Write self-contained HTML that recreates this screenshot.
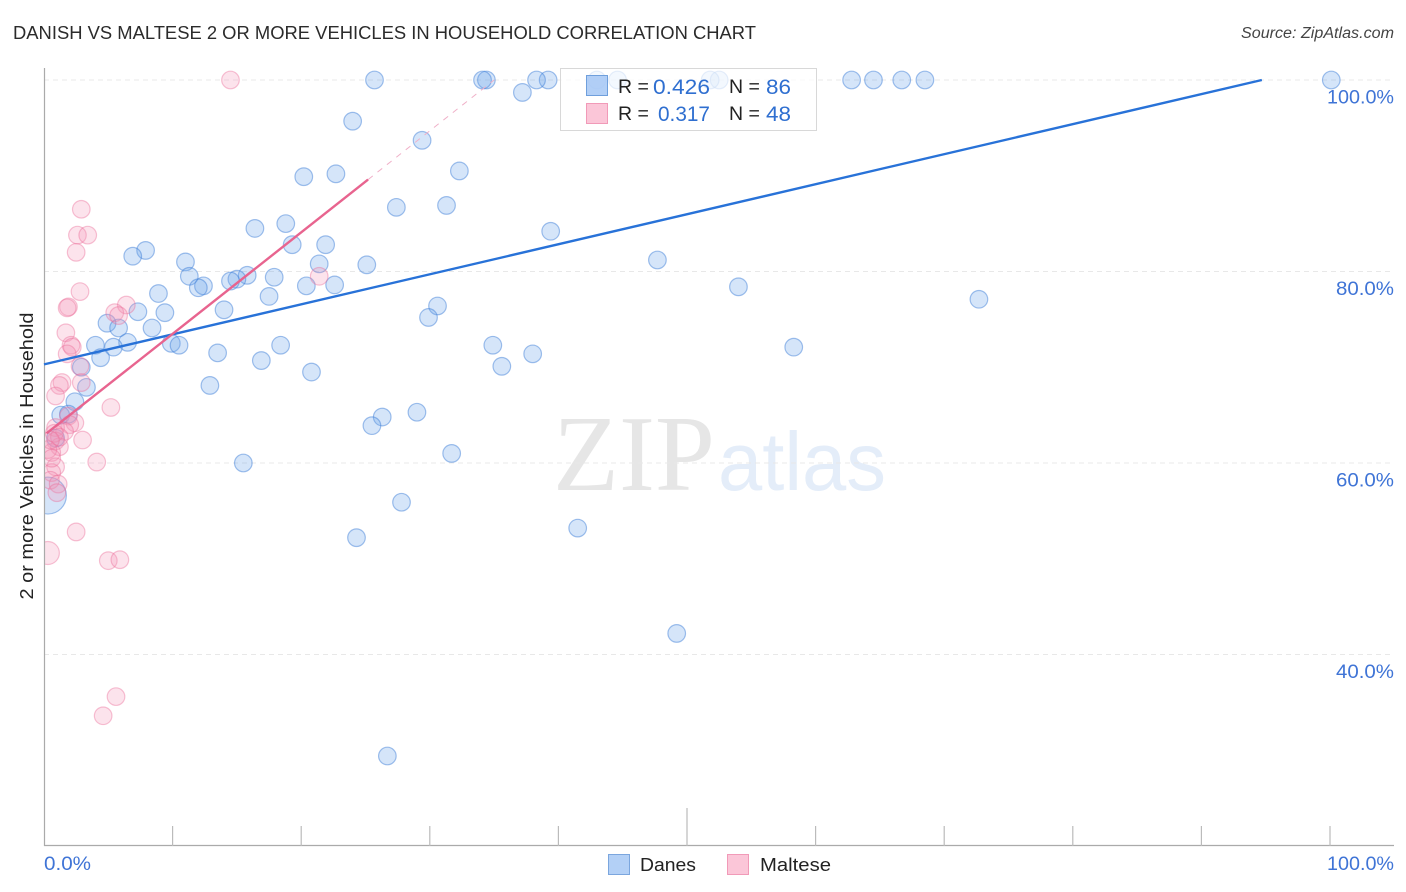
<!DOCTYPE html>
<html lang="en">
<head>
<meta charset="utf-8">
<title>Danish vs Maltese 2 or More Vehicles in Household Correlation Chart</title>
<style>
html,body{margin:0;padding:0;background:#fff;}
body{width:1406px;height:892px;overflow:hidden;font-family:"Liberation Sans",sans-serif;}
svg{display:block;}
</style>
</head>
<body>
<svg id="chart" width="1406" height="892" viewBox="0 0 1406 892" xmlns="http://www.w3.org/2000/svg">
  <text x="13" y="39" font-size="18.5" fill="#2b2b2b" textLength="743" lengthAdjust="spacingAndGlyphs">DANISH VS MALTESE 2 OR MORE VEHICLES IN HOUSEHOLD CORRELATION CHART</text>
  <text x="1241" y="38" font-size="15.5" font-style="italic" fill="#444" textLength="153" lengthAdjust="spacingAndGlyphs">Source: ZipAtlas.com</text>
  <g>
    <text x="553" y="490" font-family="'Liberation Serif',serif" font-size="108" fill="#e6e6e6" textLength="162" lengthAdjust="spacingAndGlyphs">ZIP</text>
    <text x="718" y="490" font-size="83" fill="#e4edf9" textLength="168" lengthAdjust="spacingAndGlyphs">atlas</text>
  </g>
  <g id="grid"></g>
  <g id="points-danes"></g>
  <g id="points-maltese"></g>
  <rect x="0" y="60" width="45" height="790" fill="#fff"/>
  <g id="axes"></g>
  <g id="trends"></g>
  <g>
    <rect x="560.5" y="68.5" width="256" height="62" fill="#fff" fill-opacity="0.72" stroke="#d8d8d8"/>
    <rect x="586.5" y="75.5" width="21" height="20" fill="#a5c7f4" fill-opacity="0.85" stroke="#6f9fdc"/>
    <rect x="586.5" y="103.5" width="21" height="20" fill="#fbc6d8" stroke="#f19ab8"/>
    <g font-size="19.5" fill="#222">
      <text x="618" y="93">R =</text>
      <text x="653" y="94" font-size="21" fill="#2f6fd0" textLength="57" lengthAdjust="spacingAndGlyphs">0.426</text>
      <text x="729" y="93">N =</text>
      <text x="766" y="94" font-size="21" fill="#2f6fd0" textLength="25" lengthAdjust="spacingAndGlyphs">86</text>
    </g>
    <g font-size="19.5" fill="#222">
      <text x="618" y="120">R =</text>
      <text x="658" y="121" font-size="21" fill="#2f6fd0" textLength="52" lengthAdjust="spacingAndGlyphs">0.317</text>
      <text x="729" y="120">N =</text>
      <text x="766" y="121" font-size="21" fill="#2f6fd0" textLength="25" lengthAdjust="spacingAndGlyphs">48</text>
    </g>
  </g>
  <text transform="translate(33,456) rotate(-90)" font-size="18.5" fill="#222" text-anchor="middle" textLength="287" lengthAdjust="spacingAndGlyphs">2 or more Vehicles in Household</text>
  <g>
    <g>
      <rect x="608.5" y="854.5" width="21" height="20" fill="#b3d0f6" stroke="#7ba6de"/>
      <text x="640" y="871" font-size="18.5" fill="#222" textLength="56" lengthAdjust="spacingAndGlyphs">Danes</text>
    </g>
    <g>
      <rect x="727.5" y="854.5" width="21" height="20" fill="#fbc6d8" stroke="#f19ab8"/>
      <text x="760" y="871" font-size="18.5" fill="#222" textLength="71" lengthAdjust="spacingAndGlyphs">Maltese</text>
    </g>
  </g>
</svg>
<script>
const yTicks = [100, 80, 60, 40];
const yTickLabels = ["100.0%", "80.0%", "60.0%", "40.0%"];
const xTicks = [0, 10, 20, 30, 40, 50, 60, 70, 80, 90, 100];
const xEndLabels = ["0.0%", "100.0%"];

const danesX = [100.1,68.5,66.7,64.5,62.8,52.5,51.8,44.6,43.0,39.2,38.3,37.2,34.4,34.1,25.7,24.0,29.4,32.3,22.7,20.2,31.3,27.4,39.4,18.8,16.4,21.9,19.3,7.9,6.9,47.7,25.1,21.4,11.0,11.3,17.9,15.8,15.0,14.5,12.4,12.0,22.6,20.4,54.0,17.5,8.9,72.7,30.6,29.9,14.0,9.4,7.3,4.9,5.8,8.4,6.5,5.4,4.0,9.9,10.5,34.9,38.0,18.4,13.5,58.3,4.4,16.9,35.6,20.8,2.9,3.3,12.9,2.4,29.0,1.3,1.9,26.3,25.5,31.7,15.5,0.9,27.8,41.5,24.3,49.2,26.7];
const danesY = [100,100,100,100,100,100,100,100,100,100,100,98.7,100,100,100,95.7,93.7,90.5,90.2,89.9,86.9,86.7,84.2,85.0,84.5,82.8,82.8,82.2,81.6,81.2,80.7,80.8,81.0,79.5,79.4,79.6,79.2,79.0,78.5,78.3,78.6,78.5,78.4,77.4,77.7,77.1,76.4,75.2,76.0,75.7,75.8,74.6,74.1,74.1,72.6,72.1,72.3,72.5,72.3,72.3,71.4,72.3,71.5,72.1,71.0,70.7,70.1,69.5,70.0,67.9,68.1,66.4,65.3,65.0,65.1,64.8,63.9,61.0,60.0,62.6,55.9,53.2,52.2,42.2,29.4];
const danesLargeX = [0.3];
const danesLargeY = [56.6];

const malteseX = [14.5,2.9,2.6,3.4,2.5,2.8,1.9,1.8,6.4,5.5,5.8,1.7,2.1,2.2,1.8,2.8,1.4,1.2,2.9,0.9,5.2,1.9,2.4,2.0,0.9,1.6,3.0,0.9,1.2,0.6,0.3,4.1,0.9,0.6,0.6,0.5,1.1,1.0,2.5,5.0,5.9,5.6,4.6,21.4,0.8,1.2,0.5];
const malteseY = [100,86.5,83.8,83.8,82.0,77.9,76.3,76.2,76.5,75.7,75.4,73.6,72.3,72.1,71.4,70.1,68.4,68.1,68.4,67.0,65.8,64.9,64.2,64.0,63.7,63.3,62.4,62.3,61.7,61.1,61.4,60.1,59.6,59.0,60.5,58.2,57.8,56.9,52.8,49.8,49.9,35.6,33.6,79.5,63.1,62.7,62.4];
const malteseLargeX = [0.3];
const malteseLargeY = [50.6];

const danesTrendX = [0, 94.7];
const danesTrendY = [70.3, 100];
const malteseTrendX = [0.2, 25.2];
const malteseTrendY = [63.1, 89.6];
const malteseExtendX = [25.2, 35];
const malteseExtendY = [89.6, 100];

const NS = "http://www.w3.org/2000/svg";
const xScale = v => 44 + v * 12.86;
const yScale = v => 463 - (v - 60) * 9.575;

function make(parent, tag, attrs) {
  const el = document.createElementNS(NS, tag);
  for (const k in attrs) el.setAttribute(k, attrs[k]);
  parent.appendChild(el);
  return el;
}

const grid = document.getElementById("grid");
const axes = document.getElementById("axes");
yTicks.forEach((t, i) => {
  const line = make(grid, "line", {x1: 44, x2: 1394, y1: yScale(t), y2: yScale(t), stroke: "#e8e8e8", "stroke-width": 1, "stroke-dasharray": "5 4"});
  
  
  const label = make(axes, "text", {x: 1394, y: yScale(t) + 23.5, "text-anchor": "end", "font-size": 19.5, fill: "#3f74d6"});
  label.textContent = yTickLabels[i];
  
  
  label.setAttribute('textLength', t === 100 ? 67 : 58);
  label.setAttribute('lengthAdjust', 'spacingAndGlyphs');
});

const yAxis = make(axes, "line", {x1: 44.5, x2: 44.5, y1: 68, y2: 846, stroke: "#aaa", "stroke-width": 1.2});


const xAxis = make(axes, "line", {x1: 44, x2: 1394, y1: 845.5, y2: 845.5, stroke: "#aaa", "stroke-width": 1.2});



xTicks.forEach(t => {
  if (t === 0) return;
  const top = t === 50 ? 808 : 826;
  const tick = make(axes, "line", {x1: xScale(t), x2: xScale(t), y1: top, y2: 846, stroke: "#bbb", "stroke-width": 1.2});
  
  
});

const xLabelStart = make(axes, "text", {x: 44, y: 870, "font-size": 19.5, fill: "#3f74d6", textLength: 47, lengthAdjust: "spacingAndGlyphs"});
xLabelStart.textContent = xEndLabels[0];


const xLabelEnd = make(axes, "text", {x: 1394, y: 870, "font-size": 19.5, fill: "#3f74d6", "text-anchor": "end", textLength: 67, lengthAdjust: "spacingAndGlyphs"});
xLabelEnd.textContent = xEndLabels[1];



function drawPoints(groupId, xs, ys, r, fill, stroke, name) {
  const g = document.getElementById(groupId);
  xs.forEach((x, i) => {
    const c = make(g, "circle", {cx: xScale(x), cy: yScale(ys[i]), r: r, fill: fill, stroke: stroke, "stroke-width": 1.2});
    
    
  });
}
const blueFill = "rgba(105,160,235,0.28)", blueStroke = "rgba(60,125,215,0.48)";
const pinkFill = "rgba(245,145,180,0.26)", pinkStroke = "rgba(235,105,150,0.4)";
drawPoints("points-danes", danesLargeX, danesLargeY, 18.5, blueFill, blueStroke, "danes-point-large");
drawPoints("points-danes", danesX, danesY, 8.8, blueFill, blueStroke, "danes-point");
drawPoints("points-maltese", malteseX, malteseY, 8.8, pinkFill, pinkStroke, "maltese-point");
drawPoints("points-maltese", malteseLargeX, malteseLargeY, 11.5, pinkFill, pinkStroke, "maltese-point-large");

const trends = document.getElementById("trends");
const dTrend = make(trends, "line", {x1: xScale(danesTrendX[0]), y1: yScale(danesTrendY[0]), x2: xScale(danesTrendX[1]), y2: yScale(danesTrendY[1]), stroke: "#2872d8", "stroke-width": 2.4});


const mExt = make(trends, "line", {x1: xScale(malteseExtendX[0]), y1: yScale(malteseExtendY[0]), x2: xScale(malteseExtendX[1]), y2: yScale(malteseExtendY[1]), stroke: "#f0b0c8", "stroke-width": 1, "stroke-dasharray": "6 6"});


const mTrend = make(trends, "line", {x1: xScale(malteseTrendX[0]), y1: yScale(malteseTrendY[0]), x2: xScale(malteseTrendX[1]), y2: yScale(malteseTrendY[1]), stroke: "#e8648f", "stroke-width": 2.4});


</script>
</body>
</html>
